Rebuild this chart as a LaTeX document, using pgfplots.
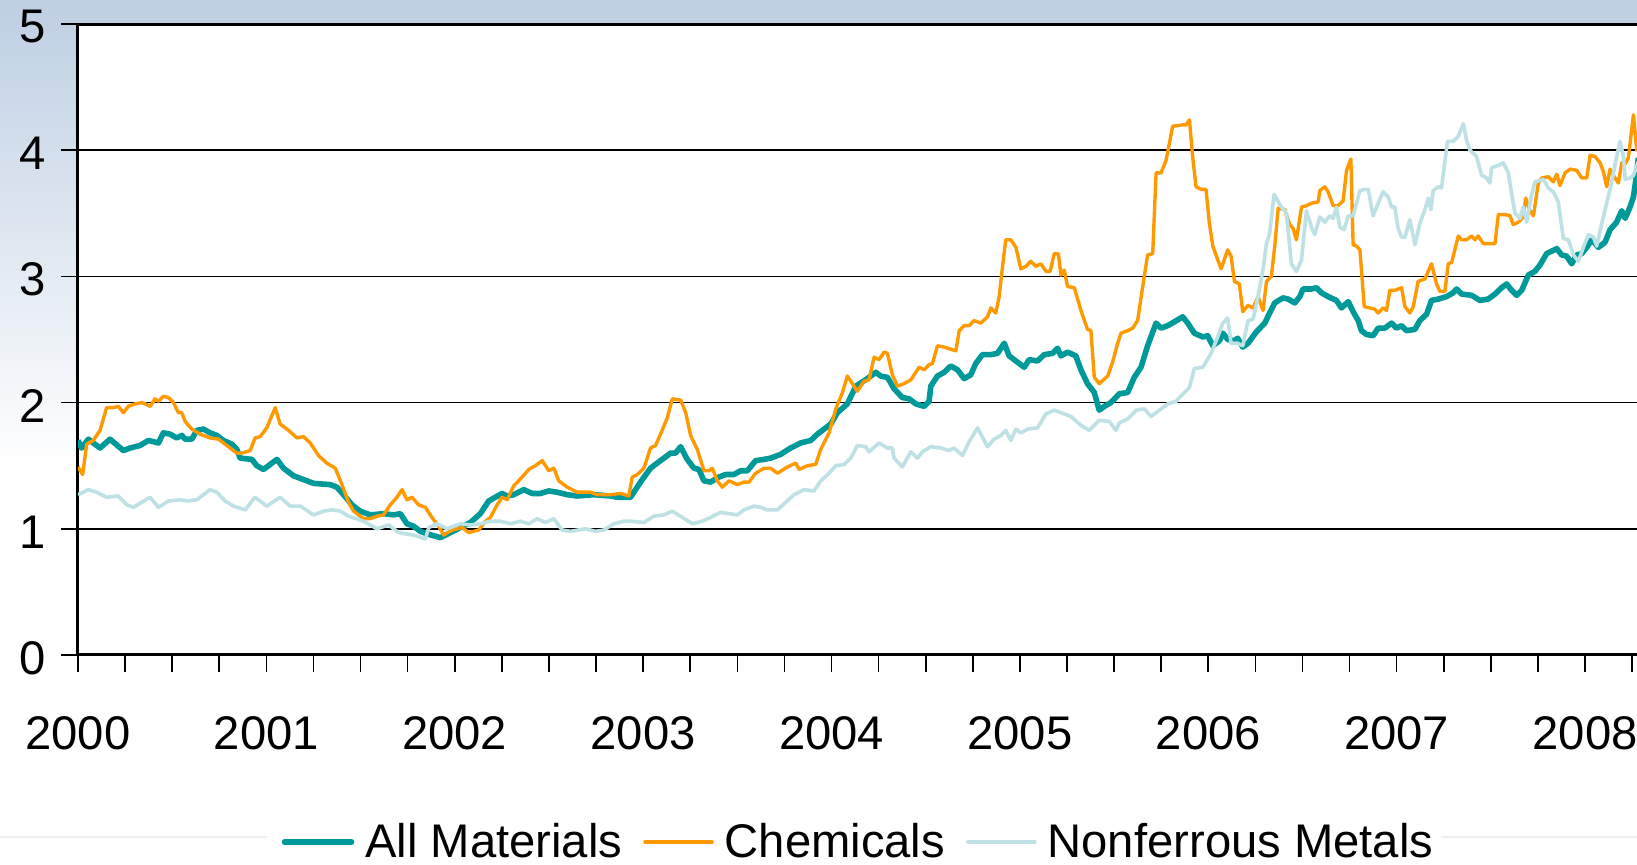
\documentclass[border=0pt]{standalone}
\usepackage{pgfplots}
\pgfplotsset{compat=1.18}
\usepackage{fontspec}
\setmainfont{Liberation Sans}
\definecolor{cAll}{RGB}{0,153,153}
\definecolor{cChem}{RGB}{255,153,0}
\definecolor{cNonf}{RGB}{189,225,228}
\definecolor{bgtop}{RGB}{190,207,226}
\definecolor{sepgray}{RGB}{238,238,238}
\begin{document}
\begin{tikzpicture}
\path[use as bounding box] (-39pt,-105pt) rectangle (779.5pt,327.5pt);
\fill[white] (-39pt,-105pt) rectangle (779.5pt,327.5pt);
\shade[top color=bgtop, bottom color=white] (-39pt,92.5pt) rectangle (779.5pt,327.5pt);
\draw[line width=0.75pt, sepgray] (-39pt,-91pt) -- (94.5pt,-91pt);
\draw[line width=0.75pt, sepgray] (681.5pt,-91pt) -- (779.5pt,-91pt);
\begin{axis}[
  at={(0pt,0pt)}, anchor=south west,
  scale only axis, width=779.5pt, height=315.5pt,
  xmin=2000, xmax=2008.276, ymin=0, ymax=5,
  axis x line*=bottom, axis y line*=left,
  axis line style={-, line width=1.5pt, black},
  axis background/.style={fill=white},
  ytick={0,1,2,3,4,5},
  xtick={2000,2000.25,2000.5,2000.75,2001,2001.25,2001.5,2001.75,2002,2002.25,2002.5,2002.75,2003,2003.25,2003.5,2003.75,2004,2004.25,2004.5,2004.75,2005,2005.25,2005.5,2005.75,2006,2006.25,2006.5,2006.75,2007,2007.25,2007.5,2007.75,2008,2008.25},
  xticklabels={2000,,,,2001,,,,2002,,,,2003,,,,2004,,,,2005,,,,2006,,,,2007,,,,2008,},
  tick align=outside, major tick length=8.5pt,
  tick style={black, line width=0.8pt},
  ymajorgrids, grid style={black, line width=0.8pt},
  /pgf/number format/assume math mode=true,
  tick label style={font=\fontsize{23.6}{28}\selectfont, black},
  xticklabel style={yshift=-18.5pt},
  yticklabel style={xshift=-4pt, yshift=-1.5pt},
  legend columns=3,
  legend style={draw=none, fill=none, at={(axis description cs:0.5,-0.2964)}, anchor=center,
    font=\fontsize{23.6}{28}\selectfont, nodes={inner sep=0pt},
    /tikz/every odd column/.append style={column sep=5.5pt},
    /tikz/every even column/.append style={column sep=10.5pt}},
  legend image code/.code={\draw[#1, line cap=round] (0pt,0pt) -- (33.5pt,0pt);},
]
\addplot[cAll, line width=2.8pt, line join=round] coordinates {
(2000.000,1.70) (2000.019,1.64) (2000.055,1.71) (2000.117,1.64) (2000.170,1.71) (2000.241,1.62) (2000.276,1.64) (2000.329,1.66) (2000.374,1.70) (2000.427,1.68) (2000.453,1.76) (2000.489,1.75) (2000.524,1.72) (2000.551,1.74) (2000.569,1.71) (2000.604,1.71) (2000.631,1.78) (2000.666,1.79) (2000.701,1.76) (2000.737,1.74) (2000.772,1.70) (2000.817,1.67) (2000.843,1.63) (2000.861,1.56) (2000.923,1.55) (2000.949,1.50) (2000.985,1.47) (2001.020,1.51) (2001.056,1.55) (2001.091,1.48) (2001.144,1.42) (2001.197,1.39) (2001.250,1.36) (2001.339,1.35) (2001.374,1.33) (2001.410,1.27) (2001.454,1.19) (2001.498,1.14) (2001.552,1.11) (2001.622,1.12) (2001.676,1.11) (2001.711,1.12) (2001.746,1.04) (2001.782,1.02) (2001.817,0.98) (2001.853,0.96) (2001.923,0.93) (2001.977,0.97) (2002.030,1.01) (2002.083,1.05) (2002.136,1.12) (2002.180,1.22) (2002.251,1.28) (2002.278,1.26) (2002.313,1.27) (2002.366,1.31) (2002.411,1.28) (2002.455,1.28) (2002.499,1.30) (2002.543,1.29) (2002.597,1.27) (2002.650,1.26) (2002.738,1.27) (2002.827,1.26) (2002.862,1.25) (2002.933,1.25) (2002.986,1.37) (2003.039,1.48) (2003.101,1.55) (2003.146,1.60) (2003.172,1.60) (2003.199,1.65) (2003.234,1.55) (2003.270,1.48) (2003.296,1.47) (2003.323,1.38) (2003.358,1.37) (2003.402,1.41) (2003.438,1.43) (2003.482,1.43) (2003.518,1.46) (2003.553,1.46) (2003.597,1.54) (2003.642,1.55) (2003.677,1.56) (2003.730,1.59) (2003.783,1.64) (2003.836,1.68) (2003.890,1.70) (2003.925,1.75) (2003.996,1.83) (2004.031,1.92) (2004.084,1.99) (2004.129,2.13) (2004.190,2.19) (2004.235,2.24) (2004.261,2.21) (2004.297,2.20) (2004.332,2.11) (2004.376,2.04) (2004.412,2.03) (2004.447,1.99) (2004.492,1.97) (2004.518,2.01) (2004.527,2.13) (2004.562,2.21) (2004.598,2.24) (2004.633,2.29) (2004.669,2.26) (2004.704,2.19) (2004.739,2.22) (2004.766,2.31) (2004.801,2.38) (2004.846,2.38) (2004.881,2.39) (2004.899,2.43) (2004.917,2.47) (2004.943,2.37) (2004.987,2.32) (2005.023,2.28) (2005.049,2.34) (2005.094,2.33) (2005.129,2.38) (2005.173,2.39) (2005.200,2.43) (2005.218,2.37) (2005.253,2.40) (2005.297,2.37) (2005.324,2.26) (2005.359,2.15) (2005.395,2.08) (2005.421,1.94) (2005.448,1.97) (2005.483,2.00) (2005.528,2.07) (2005.572,2.08) (2005.607,2.20) (2005.643,2.28) (2005.678,2.45) (2005.723,2.63) (2005.749,2.59) (2005.785,2.61) (2005.820,2.64) (2005.864,2.68) (2005.891,2.63) (2005.926,2.55) (2005.971,2.52) (2005.997,2.53) (2006.024,2.45) (2006.059,2.49) (2006.077,2.55) (2006.103,2.50) (2006.139,2.49) (2006.156,2.51) (2006.183,2.44) (2006.211,2.47) (2006.255,2.56) (2006.300,2.63) (2006.326,2.71) (2006.353,2.79) (2006.397,2.83) (2006.424,2.82) (2006.459,2.79) (2006.486,2.84) (2006.503,2.90) (2006.548,2.90) (2006.574,2.91) (2006.601,2.87) (2006.636,2.84) (2006.680,2.81) (2006.707,2.75) (2006.743,2.80) (2006.769,2.72) (2006.796,2.65) (2006.813,2.57) (2006.840,2.54) (2006.875,2.53) (2006.902,2.59) (2006.937,2.59) (2006.973,2.63) (2006.999,2.59) (2007.026,2.61) (2007.052,2.57) (2007.097,2.58) (2007.123,2.65) (2007.159,2.70) (2007.185,2.81) (2007.221,2.82) (2007.265,2.84) (2007.300,2.87) (2007.318,2.90) (2007.345,2.86) (2007.398,2.85) (2007.442,2.81) (2007.486,2.82) (2007.522,2.86) (2007.557,2.91) (2007.584,2.94) (2007.610,2.89) (2007.637,2.85) (2007.664,2.89) (2007.699,3.01) (2007.734,3.04) (2007.761,3.09) (2007.796,3.18) (2007.850,3.22) (2007.876,3.17) (2007.903,3.16) (2007.929,3.10) (2007.956,3.17) (2007.982,3.18) (2008.009,3.23) (2008.036,3.29) (2008.071,3.23) (2008.106,3.27) (2008.133,3.37) (2008.168,3.43) (2008.195,3.52) (2008.213,3.46) (2008.239,3.55) (2008.257,3.63) (2008.275,3.82) (2008.283,3.94)
};
\addlegendentry{All Materials}
\addplot[cChem, line width=1.7pt, line join=round] coordinates {
(2000.000,1.49) (2000.025,1.43) (2000.046,1.67) (2000.081,1.70) (2000.117,1.78) (2000.152,1.96) (2000.188,1.96) (2000.214,1.97) (2000.241,1.92) (2000.267,1.97) (2000.303,1.99) (2000.338,2.00) (2000.356,1.99) (2000.383,1.97) (2000.409,2.03) (2000.427,2.01) (2000.453,2.05) (2000.480,2.04) (2000.507,2.00) (2000.533,1.92) (2000.551,1.92) (2000.569,1.85) (2000.604,1.79) (2000.648,1.75) (2000.701,1.72) (2000.746,1.71) (2000.790,1.66) (2000.843,1.60) (2000.870,1.60) (2000.914,1.62) (2000.940,1.72) (2000.967,1.73) (2001.002,1.80) (2001.047,1.96) (2001.073,1.83) (2001.118,1.78) (2001.162,1.72) (2001.197,1.73) (2001.233,1.68) (2001.277,1.58) (2001.321,1.52) (2001.366,1.48) (2001.401,1.35) (2001.436,1.21) (2001.463,1.14) (2001.516,1.08) (2001.552,1.08) (2001.587,1.10) (2001.622,1.11) (2001.658,1.19) (2001.693,1.25) (2001.720,1.31) (2001.746,1.23) (2001.773,1.25) (2001.808,1.19) (2001.844,1.17) (2001.879,1.09) (2001.915,1.02) (2001.941,0.95) (2001.985,0.99) (2002.039,1.01) (2002.074,0.97) (2002.127,0.99) (2002.163,1.06) (2002.189,1.09) (2002.225,1.19) (2002.251,1.25) (2002.278,1.23) (2002.313,1.34) (2002.358,1.41) (2002.393,1.47) (2002.428,1.50) (2002.464,1.54) (2002.499,1.46) (2002.526,1.48) (2002.552,1.38) (2002.597,1.33) (2002.650,1.29) (2002.721,1.29) (2002.756,1.27) (2002.827,1.27) (2002.880,1.28) (2002.924,1.26) (2002.942,1.41) (2002.969,1.43) (2003.004,1.48) (2003.039,1.64) (2003.066,1.66) (2003.101,1.78) (2003.128,1.88) (2003.155,2.03) (2003.199,2.02) (2003.226,1.92) (2003.252,1.74) (2003.287,1.63) (2003.323,1.46) (2003.349,1.46) (2003.367,1.48) (2003.394,1.38) (2003.420,1.33) (2003.456,1.38) (2003.500,1.35) (2003.535,1.37) (2003.562,1.37) (2003.597,1.44) (2003.642,1.48) (2003.677,1.48) (2003.713,1.44) (2003.766,1.49) (2003.810,1.52) (2003.828,1.47) (2003.872,1.50) (2003.916,1.51) (2003.943,1.63) (2003.987,1.76) (2004.023,1.95) (2004.058,2.08) (2004.084,2.21) (2004.102,2.17) (2004.137,2.09) (2004.173,2.17) (2004.199,2.18) (2004.226,2.36) (2004.252,2.34) (2004.279,2.40) (2004.297,2.39) (2004.323,2.22) (2004.350,2.13) (2004.385,2.15) (2004.421,2.18) (2004.465,2.28) (2004.492,2.26) (2004.518,2.30) (2004.536,2.31) (2004.562,2.45) (2004.598,2.44) (2004.660,2.41) (2004.678,2.57) (2004.704,2.61) (2004.731,2.61) (2004.757,2.65) (2004.793,2.63) (2004.828,2.68) (2004.846,2.75) (2004.872,2.71) (2004.890,2.84) (2004.908,3.08) (2004.925,3.29) (2004.952,3.29) (2004.979,3.23) (2005.005,3.06) (2005.032,3.08) (2005.058,3.12) (2005.085,3.08) (2005.111,3.10) (2005.138,3.04) (2005.161,3.04) (2005.182,3.18) (2005.204,3.18) (2005.218,3.01) (2005.235,3.05) (2005.253,2.92) (2005.289,2.91) (2005.324,2.73) (2005.359,2.58) (2005.377,2.57) (2005.395,2.20) (2005.421,2.15) (2005.466,2.21) (2005.492,2.32) (2005.519,2.47) (2005.537,2.55) (2005.572,2.57) (2005.599,2.59) (2005.625,2.65) (2005.652,2.92) (2005.678,3.17) (2005.705,3.18) (2005.723,3.82) (2005.749,3.82) (2005.776,3.92) (2005.793,4.05) (2005.811,4.19) (2005.864,4.20) (2005.882,4.20) (2005.900,4.24) (2005.917,3.95) (2005.935,3.71) (2005.962,3.69) (2005.988,3.69) (2006.006,3.42) (2006.024,3.24) (2006.068,3.06) (2006.103,3.21) (2006.121,3.16) (2006.139,2.96) (2006.165,2.94) (2006.183,2.72) (2006.210,2.77) (2006.238,2.75) (2006.264,2.84) (2006.291,2.73) (2006.309,2.96) (2006.335,3.00) (2006.353,3.24) (2006.371,3.54) (2006.406,3.53) (2006.433,3.41) (2006.450,3.38) (2006.468,3.29) (2006.495,3.55) (2006.521,3.56) (2006.548,3.58) (2006.583,3.59) (2006.592,3.68) (2006.619,3.71) (2006.636,3.67) (2006.663,3.56) (2006.689,3.56) (2006.716,3.60) (2006.734,3.84) (2006.757,3.93) (2006.769,3.25) (2006.787,3.24) (2006.805,3.21) (2006.828,2.76) (2006.858,2.75) (2006.884,2.74) (2006.902,2.71) (2006.928,2.75) (2006.946,2.73) (2006.964,2.89) (2006.990,2.89) (2007.026,2.91) (2007.044,2.76) (2007.070,2.71) (2007.088,2.76) (2007.114,2.96) (2007.150,2.98) (2007.185,3.10) (2007.212,2.94) (2007.230,2.88) (2007.256,2.88) (2007.274,3.10) (2007.292,3.11) (2007.327,3.32) (2007.345,3.29) (2007.371,3.29) (2007.398,3.32) (2007.416,3.29) (2007.433,3.32) (2007.460,3.26) (2007.486,3.26) (2007.522,3.26) (2007.540,3.49) (2007.575,3.49) (2007.602,3.48) (2007.619,3.41) (2007.646,3.43) (2007.672,3.47) (2007.685,3.62) (2007.708,3.52) (2007.726,3.48) (2007.752,3.74) (2007.770,3.78) (2007.805,3.79) (2007.832,3.75) (2007.850,3.81) (2007.867,3.72) (2007.894,3.82) (2007.920,3.85) (2007.956,3.84) (2007.982,3.78) (2008.009,3.78) (2008.027,3.96) (2008.053,3.95) (2008.080,3.90) (2008.097,3.83) (2008.115,3.71) (2008.133,3.85) (2008.151,3.80) (2008.177,3.74) (2008.195,3.90) (2008.213,3.89) (2008.230,3.94) (2008.257,4.28) (2008.275,3.99)
};
\addlegendentry{Chemicals}
\addplot[cNonf, line width=1.8pt, line join=round] coordinates {
(2000.000,1.27) (2000.055,1.31) (2000.099,1.29) (2000.152,1.25) (2000.214,1.26) (2000.259,1.19) (2000.294,1.17) (2000.338,1.21) (2000.383,1.25) (2000.427,1.17) (2000.480,1.22) (2000.542,1.23) (2000.577,1.22) (2000.631,1.23) (2000.657,1.26) (2000.701,1.31) (2000.737,1.29) (2000.781,1.22) (2000.825,1.18) (2000.887,1.15) (2000.940,1.25) (2001.002,1.18) (2001.073,1.25) (2001.126,1.18) (2001.180,1.18) (2001.250,1.11) (2001.304,1.14) (2001.348,1.15) (2001.392,1.14) (2001.436,1.10) (2001.516,1.06) (2001.587,1.00) (2001.649,1.03) (2001.702,0.97) (2001.782,0.95) (2001.844,0.92) (2001.862,1.01) (2001.906,1.04) (2001.959,1.00) (2002.030,1.04) (2002.083,1.03) (2002.136,1.04) (2002.189,1.06) (2002.242,1.06) (2002.296,1.04) (2002.349,1.06) (2002.393,1.04) (2002.437,1.08) (2002.482,1.05) (2002.526,1.08) (2002.570,0.99) (2002.614,0.98) (2002.694,1.00) (2002.747,0.98) (2002.791,0.99) (2002.845,1.04) (2002.898,1.06) (2002.933,1.06) (2003.004,1.05) (2003.057,1.10) (2003.110,1.11) (2003.155,1.14) (2003.208,1.09) (2003.261,1.04) (2003.314,1.06) (2003.358,1.09) (2003.411,1.13) (2003.456,1.12) (2003.500,1.11) (2003.535,1.15) (2003.589,1.18) (2003.624,1.17) (2003.659,1.15) (2003.713,1.15) (2003.757,1.21) (2003.801,1.27) (2003.854,1.31) (2003.907,1.30) (2003.943,1.38) (2003.987,1.44) (2004.023,1.50) (2004.067,1.51) (2004.102,1.56) (2004.137,1.66) (2004.182,1.65) (2004.199,1.61) (2004.252,1.68) (2004.297,1.64) (2004.323,1.64) (2004.332,1.56) (2004.376,1.49) (2004.421,1.61) (2004.456,1.56) (2004.483,1.61) (2004.527,1.65) (2004.580,1.64) (2004.624,1.62) (2004.651,1.64) (2004.695,1.58) (2004.731,1.69) (2004.775,1.80) (2004.828,1.65) (2004.863,1.71) (2004.899,1.74) (2004.925,1.78) (2004.952,1.70) (2004.979,1.79) (2005.005,1.76) (2005.041,1.79) (2005.094,1.80) (2005.138,1.91) (2005.182,1.94) (2005.218,1.92) (2005.271,1.89) (2005.324,1.82) (2005.368,1.78) (2005.421,1.86) (2005.475,1.85) (2005.510,1.78) (2005.528,1.84) (2005.572,1.87) (2005.599,1.91) (2005.616,1.94) (2005.661,1.95) (2005.696,1.89) (2005.731,1.93) (2005.785,1.99) (2005.829,2.01) (2005.873,2.08) (2005.900,2.12) (2005.926,2.27) (2005.971,2.28) (2006.015,2.39) (2006.050,2.52) (2006.077,2.63) (2006.103,2.67) (2006.121,2.47) (2006.156,2.47) (2006.183,2.45) (2006.211,2.65) (2006.238,2.66) (2006.264,2.84) (2006.291,3.06) (2006.309,3.26) (2006.326,3.34) (2006.349,3.65) (2006.388,3.55) (2006.415,3.50) (2006.441,3.10) (2006.468,3.04) (2006.495,3.13) (2006.521,3.52) (2006.548,3.39) (2006.565,3.33) (2006.592,3.47) (2006.619,3.43) (2006.645,3.48) (2006.663,3.46) (2006.681,3.55) (2006.698,3.39) (2006.721,3.37) (2006.743,3.48) (2006.769,3.48) (2006.805,3.68) (2006.831,3.69) (2006.849,3.69) (2006.875,3.48) (2006.902,3.58) (2006.928,3.67) (2006.955,3.63) (2006.973,3.55) (2006.990,3.55) (2007.008,3.38) (2007.026,3.31) (2007.044,3.31) (2007.070,3.45) (2007.097,3.25) (2007.123,3.42) (2007.150,3.53) (2007.168,3.62) (2007.182,3.53) (2007.194,3.68) (2007.221,3.71) (2007.238,3.70) (2007.270,4.07) (2007.300,4.07) (2007.327,4.11) (2007.354,4.21) (2007.371,4.08) (2007.389,4.00) (2007.424,3.95) (2007.451,3.80) (2007.478,3.78) (2007.495,3.74) (2007.504,3.86) (2007.540,3.88) (2007.566,3.90) (2007.593,3.82) (2007.610,3.66) (2007.628,3.50) (2007.655,3.46) (2007.672,3.55) (2007.690,3.43) (2007.717,3.65) (2007.734,3.75) (2007.761,3.76) (2007.779,3.77) (2007.805,3.70) (2007.832,3.67) (2007.858,3.59) (2007.885,3.30) (2007.912,3.29) (2007.938,3.17) (2007.965,3.12) (2007.991,3.23) (2008.018,3.33) (2008.045,3.31) (2008.062,3.24) (2008.089,3.42) (2008.115,3.58) (2008.142,3.75) (2008.168,3.95) (2008.186,4.07) (2008.204,3.95) (2008.213,3.77) (2008.239,3.78) (2008.257,3.80) (2008.283,3.91)
};
\addlegendentry{Nonferrous Metals}
\draw[line width=1.7pt, black] (rel axis cs:0,1) -- (rel axis cs:1,1);
\end{axis}
\end{tikzpicture}
\end{document}
